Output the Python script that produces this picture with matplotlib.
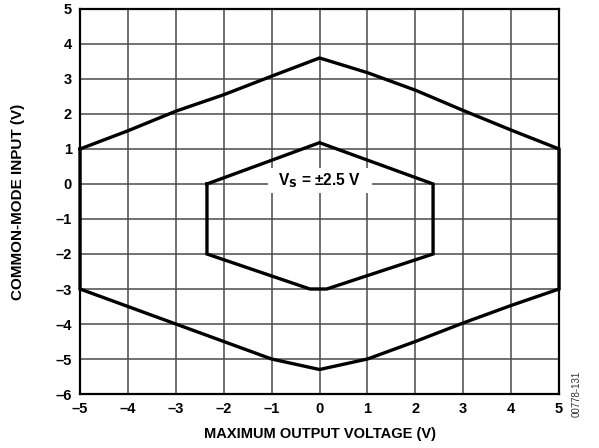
import matplotlib
matplotlib.use("Agg")
import matplotlib.pyplot as plt
from matplotlib.patches import Rectangle

plt.rcParams['font.family'] = ['Liberation Sans', 'DejaVu Sans']

# Outer boundary (Vs = ±5 V)
outer_x = [-5, -4, -3, -2, -1, 0, 1, 2, 3, 4, 5, 5, 4, 3, 2, 1, 0, -1, -2, -3, -4, -5, -5]
outer_y = [1, 1.52, 2.08, 2.55, 3.08, 3.6, 3.18, 2.68, 2.1, 1.54, 1, -3, -3.47, -3.97, -4.5, -5.0, -5.3, -5.0, -4.5, -4.0, -3.5, -3, 1]

# Inner boundary (Vs = ±2.5 V)
inner_x = [-2.35, 0, 2.37, 2.37, 0.15, -0.2, -2.35, -2.35]
inner_y = [0, 1.18, 0, -2, -3, -3, -2, 0]

xticks = [-5, -4, -3, -2, -1, 0, 1, 2, 3, 4, 5]
yticks = [-6, -5, -4, -3, -2, -1, 0, 1, 2, 3, 4, 5]

fig = plt.figure(figsize=(5.99, 4.48), dpi=100)
ax = fig.add_axes([0.1336, 0.1205, 0.7997, 0.8595])

ax.set_xlim(-5, 5)
ax.set_ylim(-6, 5)
ax.set_xticks(xticks)
ax.set_yticks(yticks)
ax.set_xticklabels(['–' + str(-v) if v < 0 else str(v) for v in xticks], fontweight='bold', fontsize=10.5)
ax.set_yticklabels(['–' + str(-v) if v < 0 else str(v) for v in yticks], fontweight='bold', fontsize=10.5)
ax.tick_params(length=0, pad=6)
ax.grid(True, color='#4a4a4a', linewidth=1.1)
ax.set_axisbelow(True)
for s in ax.spines.values():
    s.set_linewidth(1.6)
    s.set_color('black')

ax.plot(outer_x, outer_y, color='black', linewidth=2.4, solid_joinstyle='miter', clip_on=False, zorder=3)
ax.plot(inner_x, inner_y, color='black', linewidth=2.4, solid_joinstyle='miter', zorder=3)

ax.add_patch(Rectangle((-1.08, -0.26), 2.17, 0.71, facecolor='white', edgecolor='none', zorder=2.5))
ax.text(0, 0.1, r'V$_\mathbf{S}$ = ±2.5 V', ha='center', va='center', fontsize=11.2, fontweight='bold', zorder=4)

ax.set_xlabel('MAXIMUM OUTPUT VOLTAGE (V)', fontweight='bold', fontsize=10.5, labelpad=8)
ax.set_ylabel('COMMON-MODE INPUT (V)', fontweight='bold', fontsize=11, labelpad=22)

fig.text(0.962, 0.12, '00778-131', rotation=90, fontsize=7, ha='center', va='center', color='#333333')

fig.savefig('out.png', dpi=100)
